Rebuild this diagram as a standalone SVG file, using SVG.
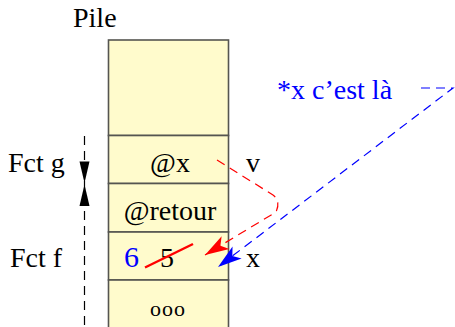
<svg xmlns="http://www.w3.org/2000/svg" width="455" height="327" viewBox="0 0 455 327">
<style>
text{font-family:"Liberation Serif","Times New Roman",serif;font-size:28px;fill:#000}
.blue{fill:#0000ff}
.c{text-anchor:middle}
.cell{fill:#fffbcc;stroke:#555550;stroke-width:1.6}
.red{fill:none;stroke:#ff0000;stroke-width:1.2;stroke-dasharray:9 6}
.bl{fill:none;stroke:#0000ff;stroke-width:1.2;stroke-dasharray:9 6}
.blk{fill:none;stroke:#000;stroke-width:1.2;stroke-dasharray:9 6}
</style>
<defs>
<marker id="ar" markerUnits="userSpaceOnUse" orient="auto" markerWidth="30" markerHeight="20" viewBox="-26 -10 30 20" refX="0" refY="0" overflow="visible">
<path d="M0,0 L-24,-7.5 L-18,0 L-24,7.5 Z" fill="#ff0000"/>
</marker>
<marker id="ab" markerUnits="userSpaceOnUse" orient="auto" markerWidth="30" markerHeight="20" viewBox="-26 -10 30 20" refX="0" refY="0" overflow="visible">
<path d="M0,0 L-24,-7.5 L-18,0 L-24,7.5 Z" fill="#0000ff"/>
</marker>
</defs>
<text x="73" y="27">Pile</text>
<g id="stack">
<rect id="cell0" class="cell" x="108.5" y="40" width="120" height="95.5"/>
<g id="cell-x"><rect class="cell" x="108.5" y="135.5" width="120" height="48"/><text class="c" x="170" y="172">@x</text></g>
<g id="cell-retour"><rect class="cell" x="108.5" y="183.5" width="120" height="48.5"/><text class="c" x="170" y="220">@retour</text></g>
<g id="cell-val"><rect class="cell" x="108.5" y="232" width="120" height="48"/><text class="blue" x="124" y="267" style="font-size:30px">6</text><text x="160" y="267">5</text><line x1="145" y1="267.5" x2="193" y2="244" stroke="#ff0000" stroke-width="2.5"/></g>
<g id="cell-dots"><rect class="cell" x="108.5" y="280" width="120" height="52"/><text class="c" x="168" y="316" style="font-size:22px;letter-spacing:1px">ooo</text></g>
</g>
<g id="labels">
<text x="8" y="172">Fct g</text>
<text x="10" y="267">Fct f</text>
<text x="246" y="172">v</text>
<text x="246" y="267">x</text>
<text class="blue" x="277" y="99">*x c’est là</text>
</g>
<g id="connectors">
<line class="blk" x1="84.5" y1="136" x2="84.5" y2="327"/>
<path d="M79.5,161.5 L89.5,161.5 L84.5,183 Z" fill="#000"/>
<path d="M79.5,206 L89.5,206 L84.5,184.5 Z" fill="#000"/>
<path class="red" d="M217,160 L273,195 Q281,201 276,212 L205,255" marker-end="url(#ar)"/>
<path class="bl" d="M421,88 L453,88 L218,267" marker-end="url(#ab)"/>
</g>
</svg>
